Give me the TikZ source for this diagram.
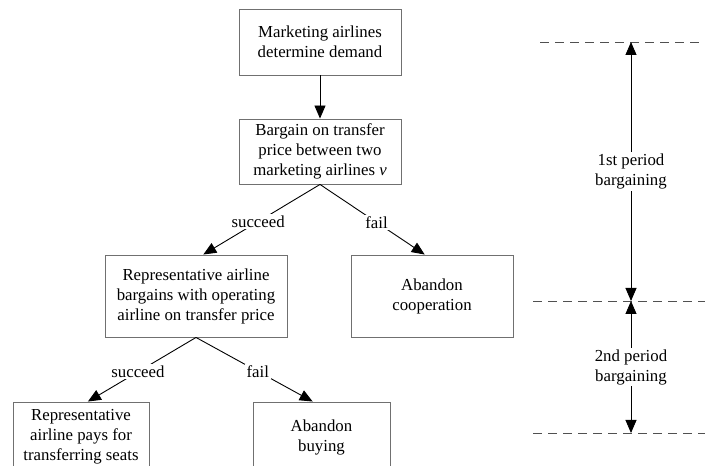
\documentclass[tikz,border=0pt]{standalone}
\usepackage{fontspec}
\setmainfont{Liberation Serif}
\usetikzlibrary{arrows.meta}
\definecolor{boxgray}{HTML}{707070}
\definecolor{dashgray}{HTML}{505050}
\begin{document}
\begin{tikzpicture}[x=1pt,y=1pt,
  box/.style={draw=boxgray, line width=0.9pt, align=center, inner sep=0pt,
    font=\fontsize{16.8}{20}\selectfont},
  arr/.style={line width=0.9pt, -{Triangle[length=13pt,width=11pt]}},
  darr/.style={line width=0.9pt, {Triangle[length=13pt,width=11pt]}-{Triangle[length=13pt,width=11pt]}},
  lab/.style={fill=white, inner sep=1.5pt, align=center, font=\fontsize{16.8}{20}\selectfont},
  guide/.style={draw=dashgray, line width=0.8pt, dash pattern=on 9pt off 6pt}]
\useasboundingbox (0,0) rectangle (705,466);
\clip (0,0) rectangle (705,466);
\fill[white] (0,0) rectangle (705,466);
% boxes
\node[box, minimum width=162pt, minimum height=66pt] (b1) at (320,424) {Marketing airlines\\determine demand};
\node[box, minimum width=162pt, minimum height=65pt] (b2) at (320,314.5) {Bargain on transfer\\price between two\\marketing airlines \textit{v}};
\node[box, minimum width=182pt, minimum height=82pt] (b3) at (196,170) {Representative airline\\bargains with operating\\airline on transfer price};
\node[box, minimum width=162pt, minimum height=82pt] (b5) at (432,170) {Abandon\\cooperation};
\node[box, minimum width=136pt, minimum height=70pt] (b4) at (81,29) {Representative\\airline pays for\\transferring seats};
\node[box, minimum width=137pt, minimum height=70pt] (b6) at (321.5,29) {Abandon\\buying};
% connectors
\draw[arr] (b1) -- (b2);
\draw[arr] (b2.south) -- node[lab, pos=0.53] (l1) {succeed} (b3.80);
\draw[arr] (b2.south) -- node[lab, pos=0.54] (l2) {fail} (b5.100);
\draw[arr] (b3.south) -- node[lab, pos=0.537] (l3) {succeed} (b4.79);
\draw[arr] (b3.south) -- node[lab, pos=0.53] (l4) {fail} (b6.104);
% period guides
\coordinate (d1a) at (540,424);
\coordinate (d1b) at (705,424);
\coordinate (d2a) at (533,165);
\coordinate (d2b) at (705,165);
\coordinate (d3a) at (533,33);
\coordinate (d3b) at (705,33);
\draw[guide] (d1a) -- (d1b);
\draw[guide] (d2a) -- (d2b);
\draw[guide] (d3a) -- (d3b);
\coordinate (ra) at (631,424);
\coordinate (rb) at (631,165);
\coordinate (rc) at (631,33);
\draw[darr] (ra) -- node[lab] (p1) {1st period\\bargaining} (rb);
\draw[darr] (rb) -- node[lab] (p2) {2nd period\\bargaining} (rc);
\end{tikzpicture}
\end{document}
